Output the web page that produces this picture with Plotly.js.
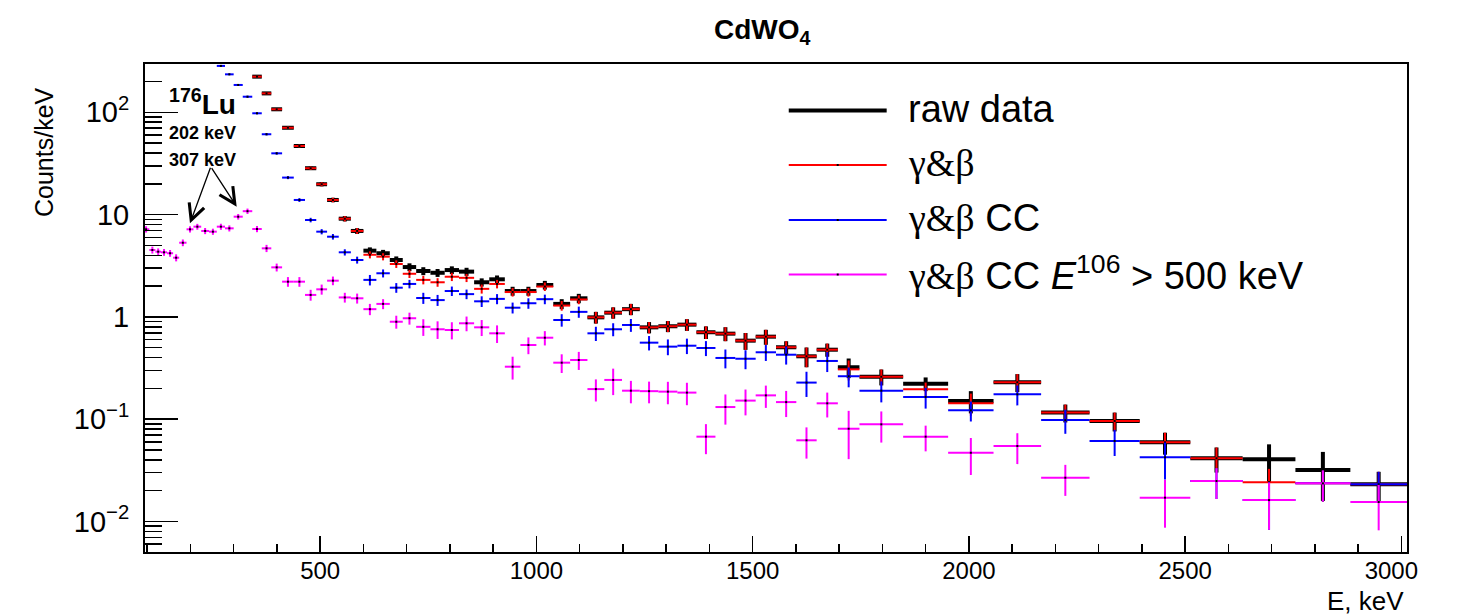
<!DOCTYPE html>
<html>
<head>
<meta charset="utf-8">
<script src="https://cdn.plot.ly/plotly-3.0.1.min.js"></script>
<style>
html,body{margin:0;padding:0;background:#fff;}
#chart{width:1463px;height:615px;}
</style>
</head>
<body>
<div id="chart"></div>
<script>
// Bin edges (keV), shared by all four histograms
const binEdges = [90,105,119,132,146,160,174,191,207,225,243,261,280,300,321,343,365,387,412,439,465,491,516,543,571,600,630,661,691,722,755,788,821,856,891,927,963,1000,1039,1078,1118,1157,1198,1239,1282,1326,1370,1414,1460,1507,1554,1601,1648,1697,1747,1848,1952,2057,2167,2279,2395,2512,2633,2755,2882,3013];

// Series names
const seriesNames = ["raw data", "γ&β", "γ&β CC", "γ&β CC E106 > 500 keV"];

// raw data (Counts/keV)
const rawData = [null,null,null,null,null, null,null,null,null,null, null,null,null,null,null,
 223,153,107,70.6,46.8, 28.4,19.8,13.9,9.12,6.92,
 4.44,4.19,3.60,3.07,2.81, 2.70,2.87,2.77,2.18,2.33,
 1.79,1.79,2.05,1.34,1.52, 0.99,1.10,1.19,0.79,0.81,
 0.84,0.708,0.686,0.586,0.641, 0.505,0.412,0.478,0.322,0.260,
 0.222,0.151,0.23,0.116,0.096, 0.0594,0.0415,0.0405,0.0319,0.0231];
const rawErr = [null,null,null,null,null, null,null,null,null,null, null,null,null,null,null,
 4,3,2.5,2,1.5, 1.1,0.9,0.7,0.55,0.45,
 0.34,0.33,0.3,0.27,0.25, 0.24,0.25,0.25,0.2,0.21,
 0.18,0.18,0.2,0.15,0.16, 0.13,0.14,0.15,0.1,0.1,
 0.11,0.1,0.107,0.11,0.107, 0.073,0.09,0.07,0.07,0.046,
 0.034,0.037,0.046,0.023,0.02, 0.0144,0.0114,0.0163,0.016,0.0075];

// gamma & beta
const gbData = [null,null,null,null,null, null,null,null,null,null, null,null,null,null,null,
 223,153,107,70.6,46.8, 28.4,19.8,13.9,9.12,6.92,
 4.05,3.88,3.29,2.64,2.30, 2.18,2.47,2.41,1.88,2.10,
 1.75,1.75,1.98,1.29,1.48, 0.99,1.10,1.19,0.79,0.81,
 0.84,0.708,0.686,0.586,0.641, 0.505,0.412,0.478,0.307,0.260,
 0.196,0.143,0.23,0.116,0.096, 0.0594,0.0415,0.0242,0.0236,0.0231];
const gbErr = [null,null,null,null,null, null,null,null,null,null, null,null,null,null,null,
 4,3,2.5,2,1.5, 1.1,0.9,0.7,0.55,0.45,
 0.32,0.31,0.28,0.24,0.22, 0.21,0.23,0.22,0.19,0.2,
 0.17,0.17,0.19,0.14,0.15, 0.13,0.14,0.15,0.1,0.1,
 0.11,0.1,0.107,0.11,0.107, 0.073,0.09,0.07,0.068,0.046,
 0.032,0.035,0.046,0.023,0.02, 0.0144,0.0114,0.0085,0.008,0.0075];

// gamma & beta CC
const ccData = [null,null,null,null,null, null,null,null,null,null, null,
 284,235,185,142,
 97.8,61,39.7,23,13.9, 8.85,6.81,6.08,4.28,3.60,
 2.30,2.67,1.93,2.1,1.53, 1.46,1.79,1.67,1.42,1.50,
 1.23,1.36,1.49,0.933,1.12, 0.691,0.757,0.834,0.56,0.512,
 0.523,0.497,0.397,0.39,0.451, 0.427,0.228,0.371,0.263,0.19,
 0.165,0.122,0.175,0.098,0.0612, 0.0424,0.0249,0.0162,0.0236,0.0231];
const ccErr = [null,null,null,null,null, null,null,null,null,null, null,
 5,4,3.5,3,
 2,1.5,1.1,0.8,0.6, 0.45,0.4,0.38,0.3,0.28,
 0.27,0.24,0.21,0.2,0.19, 0.18,0.19,0.18,0.17,0.17,
 0.15,0.16,0.16,0.13,0.14, 0.11,0.11,0.12,0.09,0.09,
 0.09,0.083,0.083,0.082,0.08, 0.085,0.063,0.082,0.058,0.044,
 0.038,0.027,0.0385,0.026,0.0175, 0.0167,0.0083,0.0079,0.0079,0.0075];

// gamma & beta CC, E106 > 500 keV
const cc500Data = [7.18,4.51,4.34,4.28,4.19, 3.79,5.31,7.18,7.62,6.92,
 6.81,7.62,7.34,9.54,10.8, 7.23,4.68,3.05,2.21,2.21,
 1.64,1.86,2.26,1.55,1.52, 1.19,1.34,0.897,0.97,0.80,
 0.757,0.745,0.866,0.791,0.691, 0.326,0.531,0.626,0.357,0.379,
 0.197,0.242,0.19,0.188,0.186, 0.182,0.0675,0.1315,0.152,0.171,
 0.147,0.0622,0.143,0.0807,0.0891, 0.0675,0.047,0.0547,0.0268,null,
 0.0171,0.0249,0.0162,0.0236,0.0155];
const cc500Err = [0.5,0.35,0.33,0.33,0.32, 0.3,0.4,0.5,0.5,0.48,
 0.47,0.52,0.5,0.6,0.65, 0.5,0.38,0.27,0.24,0.24,
 0.2,0.21,0.22,0.17,0.17, 0.15,0.15,0.13,0.13,0.148,
 0.148,0.142,0.142,0.141,0.135, 0.082,0.099,0.1,0.074,0.076,
 0.048,0.07,0.047,0.045,0.046, 0.045,0.022,0.043,0.043,0.042,
 0.042,0.021,0.039,0.04,0.03, 0.019,0.0185,0.0183,0.009,null,
 0.0084,0.0083,0.0079,0.0079,0.0073];

// Tick labels
const yTickVals = [0.01, 0.1, 1, 10, 100];
const yTickText = ["10<sup>−2</sup>", "10<sup>−1</sup>", "1", "10", "10<sup>2</sup>"];
const xTickVals = [500, 1000, 1500, 2000, 2500, 3000];
const xTickText = ["500", "1000", "1500", "2000", "2500", "3000   "];

const centers = [], halfW = [];
for (let i = 0; i < binEdges.length - 1; i++) {
  centers.push((binEdges[i] + binEdges[i + 1]) / 2);
  halfW.push((binEdges[i + 1] - binEdges[i]) / 2);
}

function hist(vals, errs, color, lw, name) {
  return {
    type: 'scatter', mode: 'markers', name: name, showlegend: false,
    x: centers, y: vals,
    marker: {symbol: 'square', size: 2, color: '#000', line: {width: 0}},
    error_x: {type: 'data', symmetric: true, array: halfW, width: 0, thickness: lw, color: color},
    error_y: {type: 'data', symmetric: true, array: errs, width: 0, thickness: lw, color: color},
    hoverinfo: 'x+y'
  };
}

const traces = [
  hist(rawData, rawErr, '#000000', 4, seriesNames[0]),
  hist(gbData, gbErr, '#ff0000', 2, seriesNames[1]),
  hist(ccData, ccErr, '#0000ff', 2, seriesNames[2]),
  hist(cc500Data, cc500Err, '#ff00ff', 2, seriesNames[3])
];

// minor log ticks
const yMinor = [];
for (let d = -3; d <= 2; d++) {
  for (let k = 2; k <= 9; k++) yMinor.push(k * Math.pow(10, d));
}

const FONT = 'Liberation Sans, Arial, Helvetica, sans-serif';

// legend (drawn as layout decoration)
const legRowsY = [0.9047, 0.7930, 0.6803, 0.5686];
const legColors = ['#000000', '#ff0000', '#0000ff', '#ff00ff'];
const legWidths = [4, 2, 2, 2];
const GREEK = '<span style="font-family:\'Liberation Serif\',\'DejaVu Serif\',serif">γ&amp;β</span>';
const legTexts = [
  'raw data',
  GREEK,
  GREEK + ' CC',
  GREEK + ' CC <i>E</i><sup>106</sup> &gt; 500 keV'
];
const shapes = [], annotations = [];
for (let i = 0; i < 4; i++) {
  shapes.push({type: 'line', xref: 'paper', yref: 'paper', x0: 0.5101, x1: 0.5877, y0: legRowsY[i], y1: legRowsY[i],
    line: {color: legColors[i], width: legWidths[i]}});
  if (i > 0) shapes.push({type: 'rect', xref: 'paper', yref: 'paper', xsizemode: 'pixel', ysizemode: 'pixel',
    xanchor: 0.5489, yanchor: legRowsY[i], x0: -1, x1: 1, y0: -1, y1: 1,
    fillcolor: '#000', line: {width: 0}});
  annotations.push({xref: 'paper', yref: 'paper', x: 0.6027, y: legRowsY[i] + 0.004, xanchor: 'left', yanchor: 'middle',
    text: legTexts[i], showarrow: false, font: {family: FONT, size: 38, color: '#000'}});
}

// axis titles & labels
annotations.push({xref: 'paper', yref: 'paper', x: -0.0800, y: 0.8197, xanchor: 'center', yanchor: 'middle',
  textangle: -90, text: 'Counts/keV', showarrow: false, font: {family: FONT, size: 25, color: '#000'}});
annotations.push({xref: 'paper', yref: 'paper', x: 0.999, y: -0.100, xanchor: 'right', yanchor: 'middle',
  text: 'E, keV', showarrow: false, font: {family: FONT, size: 26, color: '#000'}});

// in-plot texts
annotations.push({xref: 'paper', yref: 'paper', x: 0.0175, y: 0.922, xanchor: 'left', yanchor: 'middle',
  text: '<b><sup>176</sup>Lu</b>', showarrow: false, font: {family: FONT, size: 28, color: '#000'}});
annotations.push({xref: 'paper', yref: 'paper', x: 0.0175, y: 0.8592, xanchor: 'left', yanchor: 'middle',
  text: '<b>202 keV</b>', showarrow: false, font: {family: FONT, size: 18, color: '#000'}});
annotations.push({xref: 'paper', yref: 'paper', x: 0.0175, y: 0.8033, xanchor: 'left', yanchor: 'middle',
  text: '<b>307 keV</b>', showarrow: false, font: {family: FONT, size: 18, color: '#000'}});
// arrows to the 202 and 307 keV peaks
annotations.push({x: 199, y: Math.log10(8.22), xref: 'x', yref: 'y', text: '', showarrow: true,
  ax: 21, ay: -57, arrowhead: 5, arrowsize: 2.4, arrowwidth: 1.3, arrowcolor: '#000', standoff: 0});
annotations.push({x: 307, y: Math.log10(11.95), xref: 'x', yref: 'y', text: '', showarrow: true,
  ax: -26, ay: -40, arrowhead: 5, arrowsize: 2.4, arrowwidth: 1.3, arrowcolor: '#000', standoff: 0});

const layout = {
  width: 1463, height: 615,
  margin: {l: 145, r: 56, t: 64, b: 63, pad: 0},
  paper_bgcolor: '#fff', plot_bgcolor: '#fff',
  font: {family: FONT, color: '#000'},
  showlegend: false,
  title: {text: '<b>CdWO<sub>4</sub></b>', x: 0.521, xanchor: 'center', y: 0.952, yanchor: 'middle',
    font: {family: FONT, size: 28, color: '#000'}},
  xaxis: {
    type: 'linear', range: [95, 3013], showgrid: false, zeroline: false,
    showline: true, linecolor: '#000', linewidth: 2, mirror: true,
    ticks: 'inside', ticklen: 16, tickwidth: 1.5, tickcolor: '#000',
    tickmode: 'array', tickvals: xTickVals, ticktext: xTickText,
    tickfont: {family: FONT, size: 24, color: '#000'},
    ticklabelstandoff: -4,
    minor: {ticks: 'inside', ticklen: 8, tickwidth: 1.5, tickcolor: '#000', tick0: 0, dtick: 100}
  },
  yaxis: {
    type: 'log', range: [-2.298, 2.472], showgrid: false, zeroline: false,
    showline: true, linecolor: '#000', linewidth: 2, mirror: true,
    ticks: 'inside', ticklen: 33, tickwidth: 1.5, tickcolor: '#000',
    tickmode: 'array', tickvals: yTickVals, ticktext: yTickText,
    tickfont: {family: FONT, size: 29, color: '#000'}, ticklabelstandoff: 8,
    minor: {ticks: 'inside', ticklen: 17, tickwidth: 1.5, tickcolor: '#000', tickmode: 'array', tickvals: yMinor}
  },
  shapes: shapes,
  annotations: annotations
};

Plotly.newPlot('chart', traces, layout, {staticPlot: true, displayModeBar: false});
</script>
</body>
</html>
